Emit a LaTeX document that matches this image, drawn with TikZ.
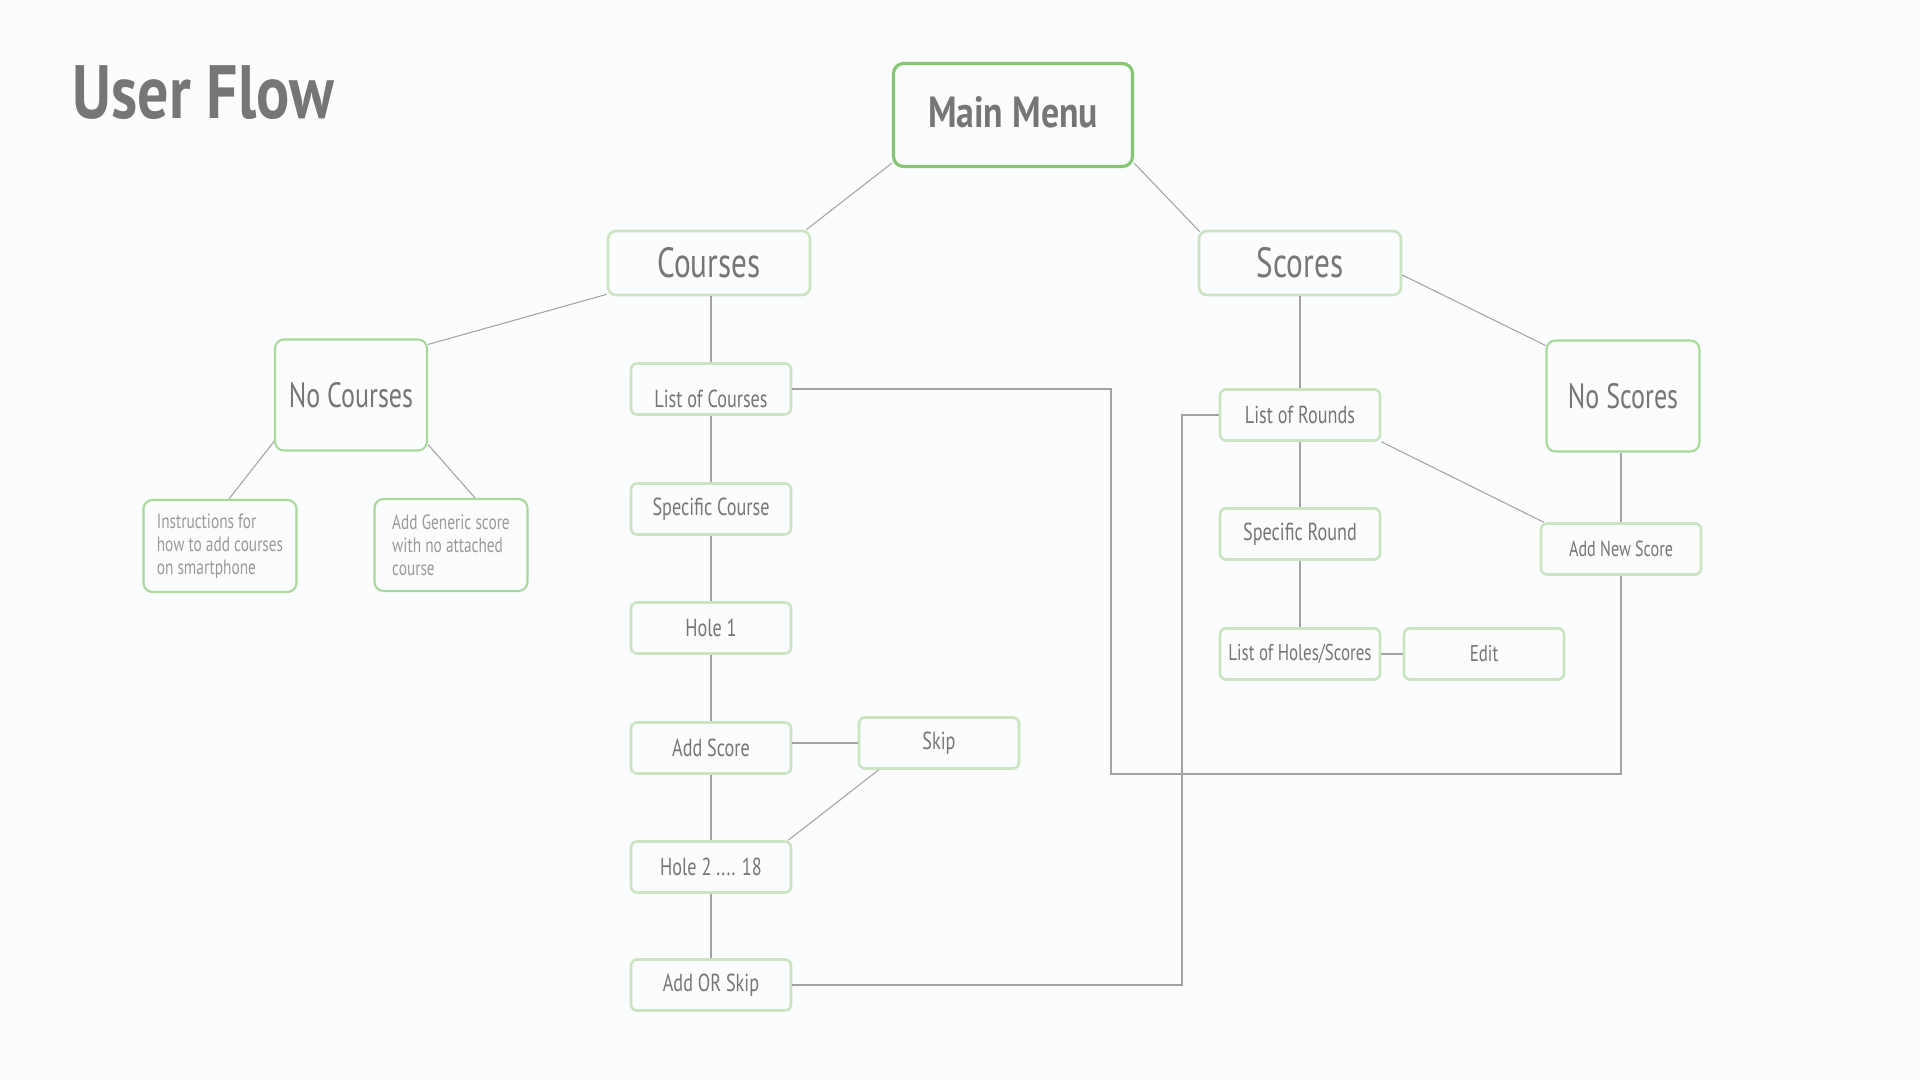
\documentclass[tikz,border=0pt]{standalone}
\usepackage{fontspec}
\setmainfont[FakeStretch=0.74, BoldFeatures={FakeStretch=0.82}]{PT Sans}
\definecolor{bg}{HTML}{FBFCFD}
\definecolor{txt}{HTML}{767676}
\definecolor{lighttxt}{HTML}{9A9A9A}
\definecolor{edge}{HTML}{A3A3A3}
\definecolor{mainbd}{HTML}{86C672}
\definecolor{boxbd}{HTML}{CBE5C3}
\definecolor{nobd}{HTML}{A8D89A}
\tikzset{
  box/.style={draw=boxbd, line width=0.75pt, rounded corners=0.06cm, text=txt, inner sep=0pt,
    minimum width=1.60cm, minimum height=0.51cm, font=\fontsize{7}{8}\selectfont},
  bigbox/.style={box, minimum width=2.02cm, minimum height=0.64cm, rounded corners=0.08cm,
    font=\fontsize{12}{14}\selectfont},
  nobox/.style={box, draw=nobd, line width=0.6pt, minimum width=1.52cm, minimum height=1.11cm,
    rounded corners=0.09cm, font=\fontsize{10}{12}\selectfont},
  notebox/.style={box, draw=nobd, line width=0.6pt, minimum width=1.53cm, minimum height=0.92cm,
    rounded corners=0.09cm, align=left, text=lighttxt, font=\fontsize{5.9}{6.6}\selectfont},
  link/.style={draw=edge, line width=0.3pt}
}
\begin{document}
\begin{tikzpicture}
\fill[bg] (0,0) rectangle (19.2,-10.8);
\node[anchor=base west, text=txt, inner sep=0pt, font=\fontsize{21.5}{24}\selectfont\bfseries] (title) at (0.72,-1.19) {User Flow};
\node[bigbox, draw=mainbd, line width=0.9pt, minimum width=2.39cm, minimum height=1.03cm, rounded corners=0.1cm,
  text height=0.3cm, text depth=0.04cm, font=\fontsize{12.4}{14}\selectfont\bfseries] (menu) at (10.13,-1.15) {Main Menu};
\node[bigbox] (courses) at (7.09,-2.63) {Courses};
\node[bigbox] (scores) at (13.00,-2.63) {Scores};
\node[nobox] (nocourses) at (3.51,-3.95) {No Courses};
\node[nobox, minimum width=1.53cm] (noscores) at (16.23,-3.96) {No Scores};
\node[notebox] (instr) at (2.20,-5.46) {Instructions for\\how to add courses\\on smartphone};
\node[notebox] (generic) at (4.51,-5.45) {Add Generic score\\with no attached\\course};
\node[box, text height=0.37cm, text depth=0cm] (courselist) at (7.11,-3.89) {List of Courses};
\node[box] (course) at (7.11,-5.09) {Specific Course};
\node[box] (hole1) at (7.11,-6.28) {Hole 1};
\node[box] (addscore) at (7.11,-7.48) {Add Score};
\node[box] (skip) at (9.39,-7.43) {Skip};
\node[box] (holes) at (7.11,-8.67) {Hole 2 .... 18};
\node[box] (addskip) at (7.11,-9.85) {Add OR Skip};
\node[box] (rounds) at (13.00,-4.15) {List of Rounds};
\node[box] (round) at (13.00,-5.34) {Specific Round};
\node[box, font=\fontsize{6.5}{7}\selectfont] (holelist) at (13.00,-6.54) {List of Holes/Scores};
\node[box, font=\fontsize{6.5}{7}\selectfont] (edit) at (14.84,-6.54) {Edit};
\node[box, font=\fontsize{6.2}{7}\selectfont] (newscore) at (16.21,-5.49) {Add New Score};
\coordinate (bend1) at (11.11,-7.74);
\coordinate (bend2) at (11.82,-9.85);
\draw[link] ([yshift=0.05cm]menu.south west) -- ([xshift=-0.05cm]courses.north east);
\draw[link] ([yshift=0.05cm]menu.south east) -- ([xshift=0.02cm,yshift=-0.02cm]scores.north west);
\draw[link] ([yshift=0.02cm]courses.south west) -- ([yshift=-0.06cm]nocourses.north east);
\draw[link] ([yshift=0.1cm]nocourses.south west) -- ([xshift=0.09cm]instr.north);
\draw[link] ([yshift=0.07cm]nocourses.south east) -- ([xshift=0.24cm]generic.north);
\draw[link] (courselist.north) -- (courselist.north |- courses.south);
\draw[link] (courselist) -- (course) -- (hole1) -- (addscore) -- (holes) -- (addskip);
\draw[link] (addscore.east |- skip.west) -- (skip.west);
\draw[link] ([xshift=0.21cm]skip.south west) -- ([xshift=-0.04cm]holes.north east);
\draw[link] (courselist.east) -| (bend1) -| (newscore.south);
\draw[link] (addskip.east) -| (bend2 |- rounds.west) -- (rounds.west);
\draw[link] (scores) -- (rounds);
\draw[link] ([yshift=-0.12cm]scores.east) -- ([yshift=-0.06cm]noscores.north west);
\draw[link] (rounds.south east) -- ([xshift=0.04cm]newscore.north west);
\draw[link] (noscores.south -| newscore.north) -- (newscore.north);
\draw[link] (rounds) -- (round) -- (holelist) -- (edit);
\end{tikzpicture}
\end{document}
